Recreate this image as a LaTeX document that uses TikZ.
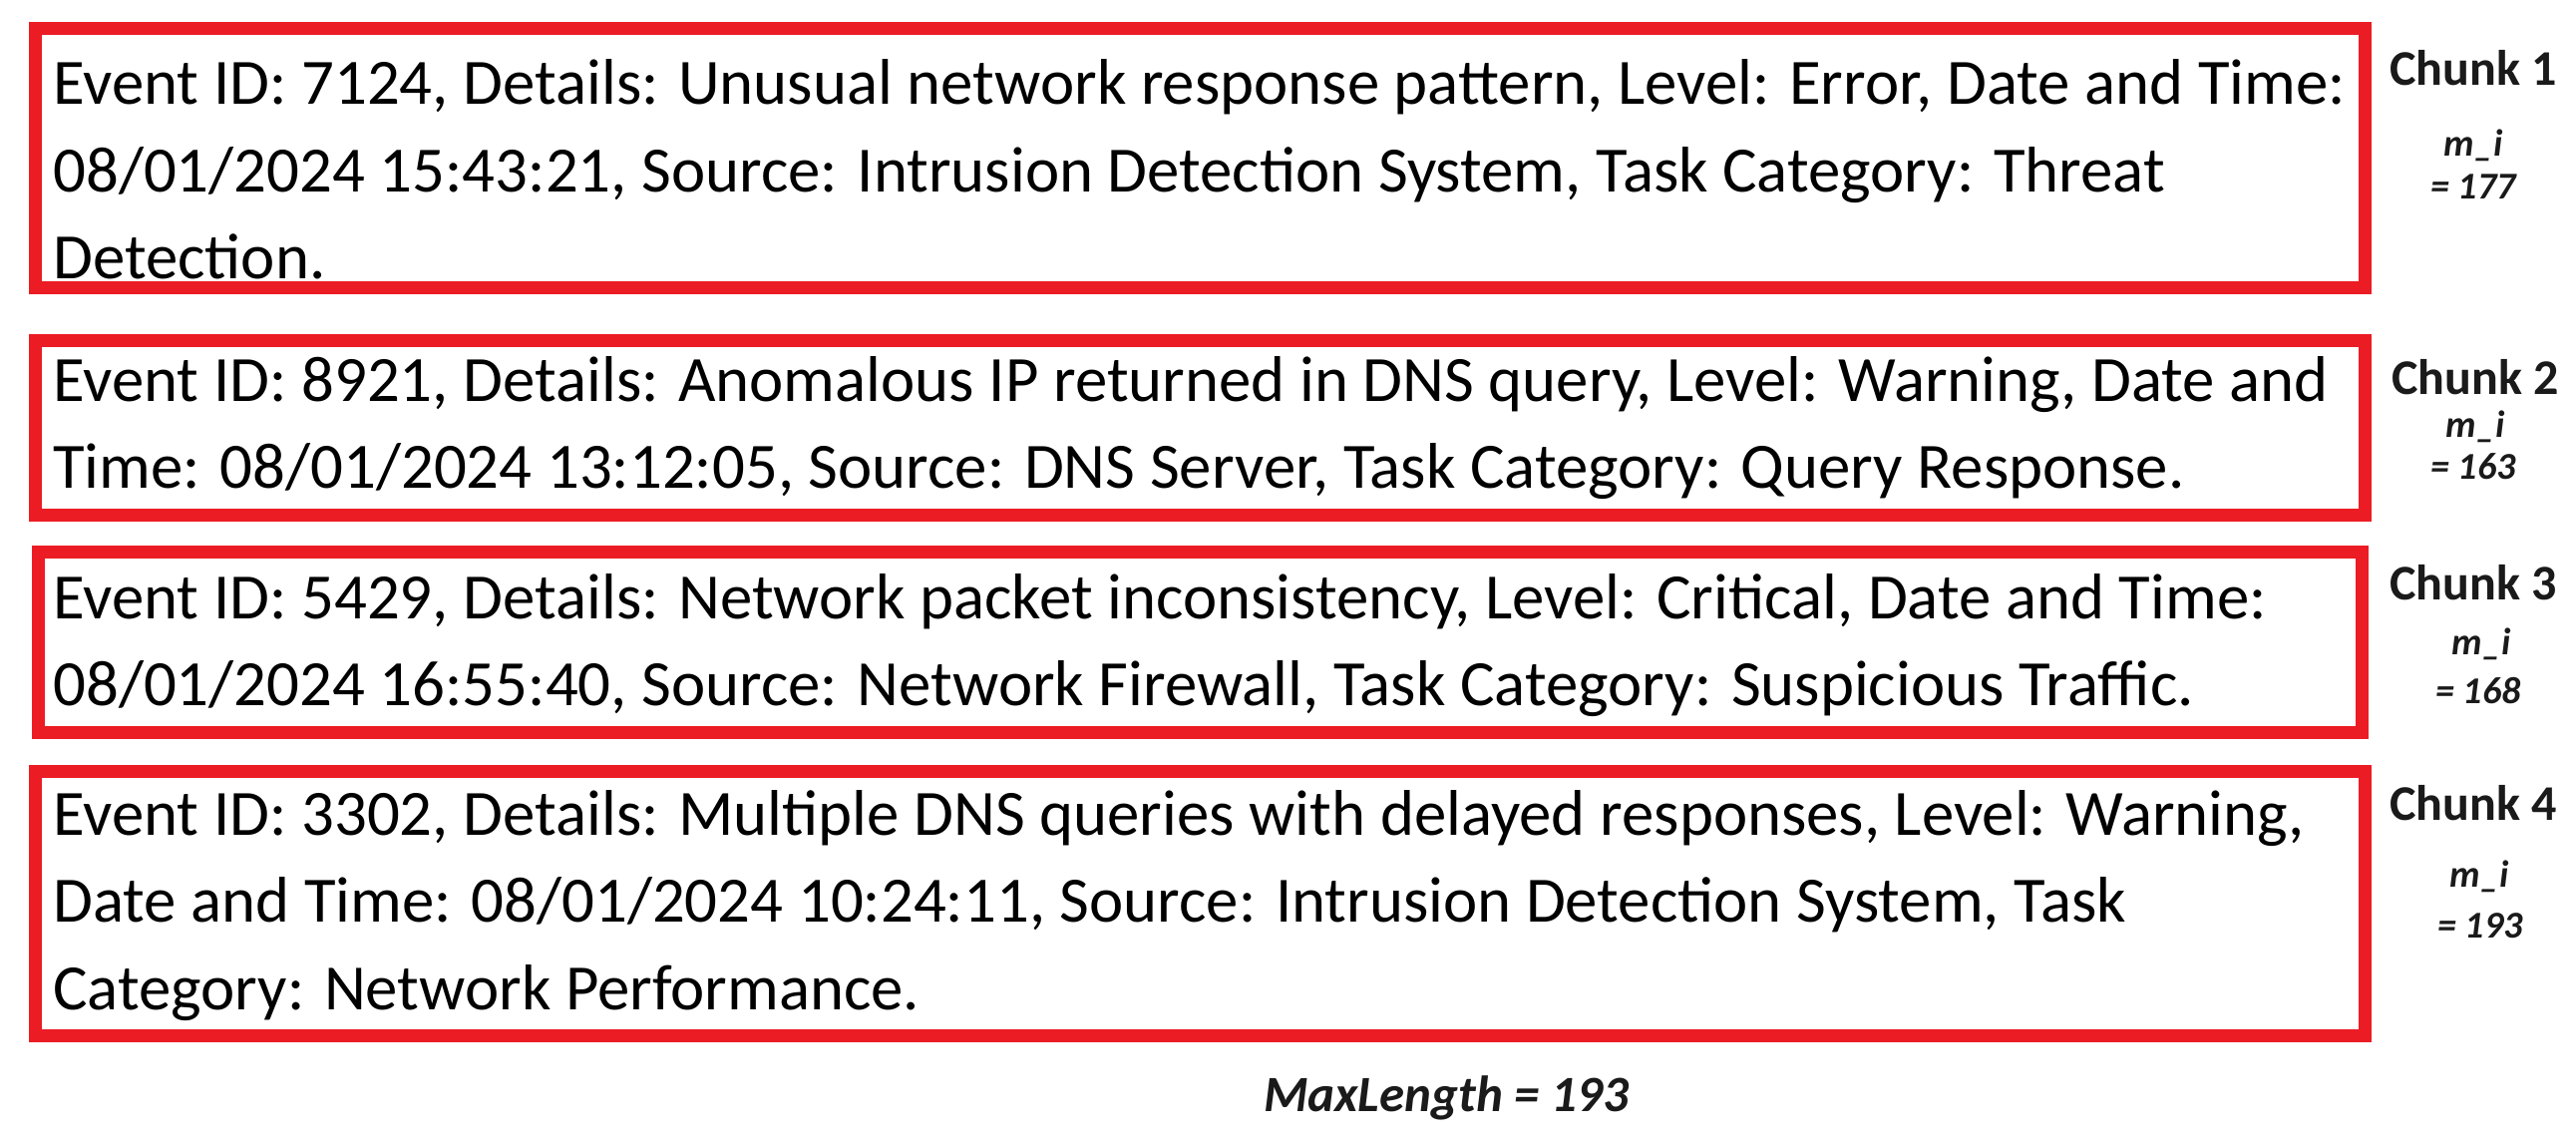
\documentclass[tikz,border=0pt]{standalone}
\usepackage{fontspec}
\setmainfont{Carlito}
\definecolor{boxred}{HTML}{EC1C24}
\definecolor{lbl}{HTML}{1A1A1A}
\begin{document}
\begin{tikzpicture}[x=0.5pt,y=-0.5pt,
  chunkbox/.style={draw=boxred,line width=6.5pt},
  evtext/.style={anchor=west,align=left,inner sep=0pt,font=\fontsize{32.4}{43.75}\selectfont},
  chunklbl/.style={font=\bfseries\fontsize{25}{28}\selectfont,inner sep=0pt,text=lbl},
  milbl/.style={font=\bfseries\itshape\fontsize{19}{22}\selectfont,inner sep=0pt,text=lbl}]
\useasboundingbox (0,0) rectangle (2583,1143);
\draw[chunkbox] (35.5,28.5) rectangle (2371.5,288.5);
\draw[chunkbox] (35.5,341.5) rectangle (2371.5,516.5);
\draw[chunkbox] (38.5,553.5) rectangle (2368.5,734.5);
\draw[chunkbox] (35.5,773.5) rectangle (2371.5,1038.5);
\node[evtext] (t1) at (53,170) {Event ID: 7124, Details: Unusual network response pattern, Level: Error, Date and Time:\\08/01/2024 15:43:21, Source: Intrusion Detection System, Task Category: Threat\\Detection.};
\node[evtext] (t2) at (53,429) {Event ID: 8921, Details: Anomalous IP returned in DNS query, Level: Warning, Date and\\Time: 08/01/2024 13:12:05, Source: DNS Server, Task Category: Query Response.};
\node[evtext] (t3) at (53,647) {Event ID: 5429, Details: Network packet inconsistency, Level: Critical, Date and Time:\\08/01/2024 16:55:40, Source: Network Firewall, Task Category: Suspicious Traffic.};
\node[evtext] (t4) at (53,908) {Event ID: 3302, Details: Multiple DNS queries with delayed responses, Level: Warning,\\Date and Time: 08/01/2024 10:24:11, Source: Intrusion Detection System, Task\\Category: Network Performance.};
\node[chunklbl] (c1) at (2480,68) {Chunk 1};
\node[milbl] (m1) at (2480,146) {m\_i};
\node[milbl] (v1) at (2480,187) {= 177};
\node[chunklbl] (c2) at (2482,378) {Chunk 2};
\node[milbl] (m2) at (2482,428) {m\_i};
\node[milbl] (v2) at (2480,468) {= 163};
\node[chunklbl] (c3) at (2480,584) {Chunk 3};
\node[milbl] (m3) at (2488,646) {m\_i};
\node[milbl] (v3) at (2485,693) {= 168};
\node[chunklbl] (c4) at (2480,805) {Chunk 4};
\node[milbl] (m4) at (2486,879) {m\_i};
\node[milbl] (v4) at (2487,928) {= 193};
\node[font=\bfseries\itshape\fontsize{25.5}{29}\selectfont,inner sep=0pt,text=lbl] (ml) at (1450,1101) {MaxLength = 193};
\end{tikzpicture}
\end{document}
